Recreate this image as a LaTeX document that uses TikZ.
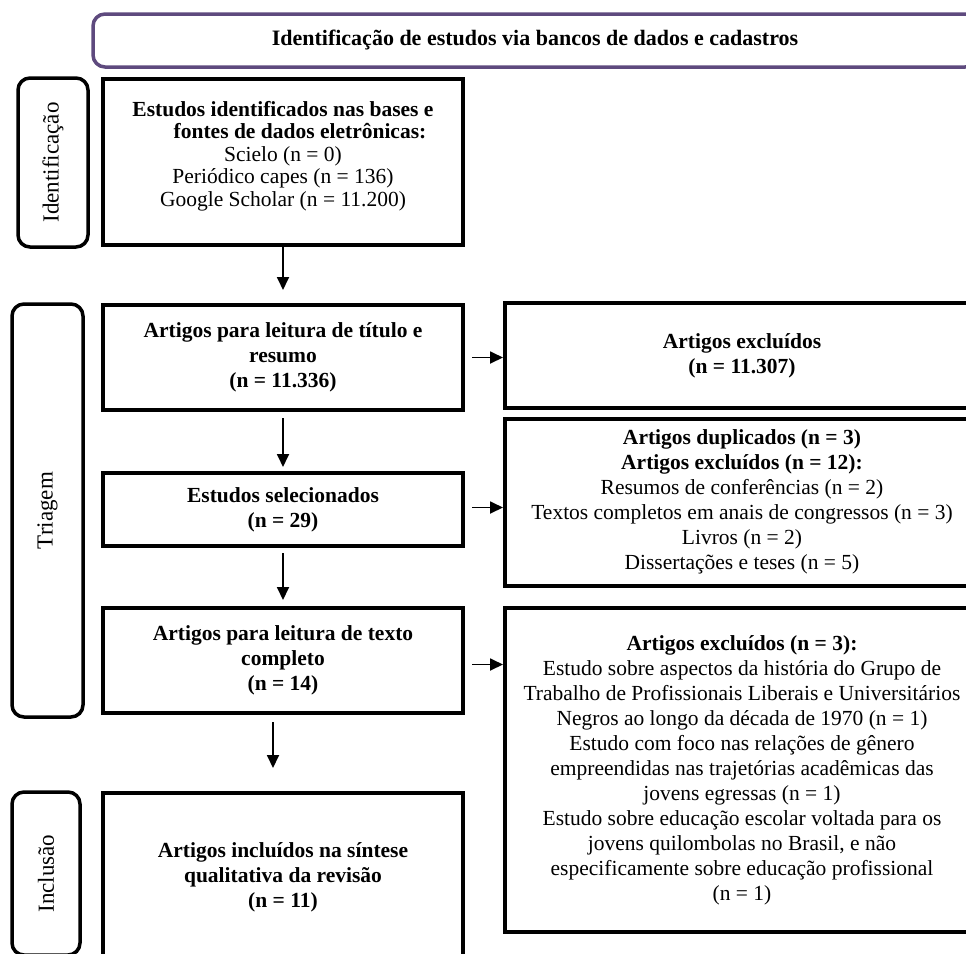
\documentclass[tikz,border=0pt]{standalone}
\usepackage{fontspec}
\setmainfont{Liberation Serif}
\usetikzlibrary{arrows.meta}
\definecolor{banpurple}{HTML}{5E4A7E}
\begin{document}
\begin{tikzpicture}[x=1pt,y=-1pt,
  box/.style={draw=black, line width=4pt, minimum width=360pt, inner sep=0pt},
  rbox/.style={draw=black, line width=4pt, minimum width=474pt, inner sep=0pt, align=center, font=\fontsize{21.5}{25}\selectfont},
  side/.style={draw=black, line width=3.5pt, rounded corners=12pt, inner sep=0pt},
  txt/.style={align=center, font=\fontsize{21.5}{25}\selectfont, inner sep=0pt},
  sidetxt/.style={rotate=90, font=\fontsize{23}{26}\selectfont, inner sep=0pt},
  arr/.style={line width=1.8pt, -{Triangle[length=13pt,width=12pt]}}
]
\clip (0,0) rectangle (966,953);
\fill[white] (0,0) rectangle (966,953);

% banner
\node[draw=banpurple, line width=3.5pt, rounded corners=12pt, minimum width=884pt,
      minimum height=53pt, inner sep=0pt, font=\bfseries\fontsize{22}{26}\selectfont]
      (ban) at (535,40.5) {Identificação de estudos via bancos de dados e cadastros};

% side labels
\node[side, minimum width=70pt, minimum height=169pt] (sideI) at (53,162.5) {};
\node[sidetxt] (sideIt) at (sideI.center) {Identificação};
\node[side, minimum width=71pt, minimum height=413pt] (sideT) at (47.5,510.5) {};
\node[sidetxt] (sideTt) at (sideT.center) {Triagem};
\node[side, minimum width=68pt, minimum height=163pt] (sideC) at (46,873.5) {};
\node[sidetxt] (sideCt) at (sideC.center) {Inclusão};

% left column
\node[box, minimum height=166pt] (b1) at (283,162) {};
\node[txt, font=\fontsize{21.5}{22.5}\selectfont] (b1t) at (283,156)
  {\textbf{Estudos identificados nas bases e}\\
   \hspace*{34pt}\textbf{fontes de dados eletrônicas:}\\
   Scielo (n = 0)\\
   Periódico capes (n = 136)\\
   Google Scholar (n = 11.200)};

\node[box, minimum height=105pt, txt] (b2) at (283,357.5)
  {\textbf{Artigos para leitura de título e}\\ \textbf{resumo}\\ \textbf{(n = 11.336)}};
\node[box, minimum height=73pt, txt] (b3) at (283,509.5)
  {\textbf{Estudos selecionados}\\ \textbf{(n = 29)}};
\node[box, minimum height=105pt, txt] (b4) at (283,660.5)
  {\textbf{Artigos para leitura de texto}\\ \textbf{completo}\\ \textbf{(n = 14)}};
\node[box, minimum height=168pt, txt] (b5) at (283,877)
  {\textbf{Artigos incluídos na síntese}\\ \textbf{qualitativa da revisão}\\ \textbf{(n = 11)}};

% right column
\node[rbox, minimum height=105pt] (rA) at (742,355.5)
  {\textbf{Artigos excluídos}\\ \textbf{(n = 11.307)}};
\node[rbox, minimum height=167pt] (rB) at (742,502)
  {\textbf{Artigos duplicados (n = 3)}\\
   \textbf{Artigos excluídos (n = 12):}\\
   Resumos de conferências (n = 2)\\
   Textos completos em anais de congressos (n = 3)\\
   Livros (n = 2)\\
   Dissertações e teses (n = 5)};
\node[rbox, minimum height=324pt] (rC) at (742,770)
  {\textbf{Artigos excluídos (n = 3):}\\
   Estudo sobre aspectos da história do Grupo de\\
   Trabalho de Profissionais Liberais e Universitários\\
   Negros ao longo da década de 1970 (n = 1)\\
   Estudo com foco nas relações de gênero\\
   empreendidas nas trajetórias acadêmicas das\\
   jovens egressas (n = 1)\\
   Estudo sobre educação escolar voltada para os\\
   jovens quilombolas no Brasil, e não\\
   especificamente sobre educação profissional\\
   (n = 1)};

% vertical arrows
\draw[arr, shorten >=13pt] (b1.south) -- (b2.north);
\draw[arr, shorten <=6pt, shorten >=4pt] (b2.south) -- (b3.north);
\draw[arr, shorten <=5pt, shorten >=6pt] (b3.south) -- (b4.north);
\draw[arr, shorten <=7pt, shorten >=23pt] ([xshift=-10pt]b4.south) -- ([xshift=-10pt]b5.north);

% horizontal arrows
\draw[arr, shorten <=7pt] (b2.east) -- (b2.east -| rA.west);
\draw[arr, shorten <=7pt] ([yshift=2pt]b3.east) -- ([yshift=2pt]b3.east -| rB.west);
\draw[arr, shorten <=7pt] ([yshift=-4pt]b4.east) -- ([yshift=-4pt]b4.east -| rC.west);
\end{tikzpicture}
\end{document}
